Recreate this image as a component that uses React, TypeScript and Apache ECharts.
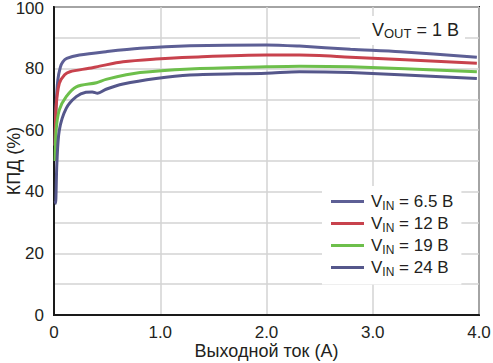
import React, { useEffect, useRef } from "react";
import * as echarts from "echarts";

const currentA65 = [0.01, 0.02, 0.036, 0.06, 0.083, 0.12, 0.24, 0.49, 0.81, 1.28, 2.0, 2.31, 2.79, 3.26, 3.98];
const effV65 = [55, 68, 76.3, 80.5, 82.2, 83.3, 84.4, 85.5, 86.6, 87.4, 87.7, 87.3, 86.3, 85.5, 83.7];

const currentA12 = [0.01, 0.02, 0.05, 0.1, 0.15, 0.33, 0.43, 0.65, 0.96, 1.28, 2.0, 2.31, 2.79, 3.98];
const effV12 = [55, 67.6, 75.2, 78, 79, 80.1, 80.8, 82.2, 83.1, 83.7, 84.4, 84.4, 83.7, 81.7];

const currentA19 = [0.01, 0.02, 0.05, 0.115, 0.21, 0.4, 0.49, 0.81, 1.28, 2.0, 2.31, 2.79, 3.98];
const effV19 = [50, 60, 66.6, 70.9, 74.1, 75.4, 76.5, 78.7, 79.9, 80.6, 80.8, 80.6, 79];

const currentA24 = [0.012, 0.015, 0.027, 0.05, 0.115, 0.21, 0.3, 0.36, 0.41, 0.49, 0.65, 0.96, 1.28, 2.0, 2.31, 2.79, 3.98];
const effV24 = [37, 36.3, 49.2, 60, 67.1, 70.9, 72.3, 72.4, 72, 73.3, 75, 76.8, 77.9, 78.5, 79, 78.7, 76.8];

const seriesNames = ["6.5", "12", "19", "24"];
const seriesColors = ["#5d5f95", "#c8424d", "#6dbf4b", "#55578b"];
const xTicks = ["0", "1.0", "2.0", "3.0", "4.0"];

const FONT = "'Liberation Sans', Arial, sans-serif";
const TEXT = "#231f20";
const FS = 17;

const zip = (xs: number[], ys: number[]) => xs.map((x, i) => [x, ys[i]]);

export default function App() {
  const ref = useRef<HTMLDivElement>(null);
  useEffect(() => {
    if (!ref.current) return;
    const chart = echarts.init(ref.current, null, { renderer: "svg" });
    const datasets = [
      zip(currentA65, effV65),
      zip(currentA12, effV12),
      zip(currentA19, effV19),
      zip(currentA24, effV24),
    ];
    const rich = {
      f: { fontSize: FS, fontFamily: FONT, fontWeight: "normal" as const, color: TEXT, lineHeight: 20, padding: [0, 0, 0, 2] },
      v: { fontSize: FS, fontFamily: FONT, fontWeight: "normal" as const, color: TEXT, lineHeight: 20 },
      s: { fontSize: 12, fontFamily: FONT, fontWeight: "normal" as const, color: TEXT, lineHeight: 12, verticalAlign: "bottom" as const },
    };
    const richT = {
      v: { ...rich.v, fontSize: 18 },
      s: { ...rich.s, fontSize: 13 },
    };
    chart.setOption({
      animation: false,
      backgroundColor: "#fff",
      textStyle: { fontFamily: FONT },
      grid: {
        left: 54,
        right: 14,
        top: 7,
        bottom: 48,
        outerBoundsMode: "none",
        containLabel: false,
        show: true,
        borderColor: "#1a1a1a",
        borderWidth: 2,
        backgroundColor: "#fff",
      },
      title: {
        text: "{v|V}{s|OUT}{v| = 1 B}",
        left: 360,
        top: 15,
        padding: [5, 6, 5, 12],
        backgroundColor: "#fff",
        textStyle: { rich: richT, fontWeight: "normal" },
      },
      legend: {
        orient: "vertical",
        left: 322,
        top: 186,
        padding: [7, 8, 7, 9],
        backgroundColor: "#fff",
        icon: "rect",
        itemWidth: 33,
        itemHeight: 3,
        itemGap: 3.5,
        data: seriesNames,
        formatter: (name: string) => `{f|V}{s|IN}{v| = ${name} B}`,
        textStyle: { rich },
      },
      xAxis: {
        type: "value",
        min: 0,
        max: 4,
        interval: 1,
        name: "Выходной ток (A)",
        nameLocation: "middle",
        nameGap: 27,
        nameMoveOverlap: false,
        nameTextStyle: { fontSize: 18, lineHeight: 18, color: TEXT, fontFamily: FONT },
        axisLine: { show: true, lineStyle: { color: "#1a1a1a", width: 2 } },
        axisTick: { show: false },
        axisLabel: {
          fontSize: FS,
          color: TEXT,
          margin: 9,
          formatter: (v: number) => xTicks[Math.round(v)],
        },
        splitLine: { show: true, lineStyle: { color: "#d3d3d3", width: 1.5 } },
      },
      yAxis: {
        type: "value",
        min: 0,
        max: 100,
        interval: 10,
        name: "КПД (%)",
        nameLocation: "middle",
        nameGap: 31,
        nameMoveOverlap: false,
        nameTextStyle: { fontSize: 18, lineHeight: 18, color: TEXT, fontFamily: FONT },
        axisLine: { show: true, lineStyle: { color: "#1a1a1a", width: 2 } },
        axisTick: { show: false },
        axisLabel: {
          fontSize: FS,
          lineHeight: 13,
          color: TEXT,
          margin: 10,
          formatter: (v: number) => (v === 100 ? "{t|100}" : v % 20 === 0 ? String(v) : ""),
          rich: {
            t: { fontSize: FS, lineHeight: 13, color: TEXT, fontFamily: FONT, padding: [3, 0, 0, 0] },
          },
        },
        splitLine: { show: true, lineStyle: { color: "#d3d3d3", width: 1.5 } },
      },
      series: seriesNames.map((n, i) => ({
        name: n,
        type: "line",
        data: datasets[i],
        smooth: 0.3,
        showSymbol: false,
        lineStyle: { color: seriesColors[i], width: 3 },
        itemStyle: { color: seriesColors[i] },
        z: 3,
      })),
    });
    return () => chart.dispose();
  }, []);
  return <div ref={ref} style={{ width: 493, height: 363, position: "absolute", left: 0, top: 0 }} />;
}
